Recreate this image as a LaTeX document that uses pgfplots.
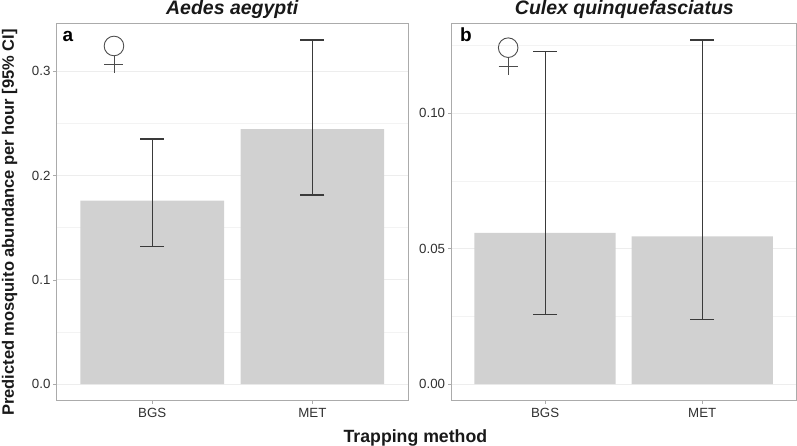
\documentclass[border=0pt]{standalone}
\usepackage{pgfplots}
\pgfplotsset{compat=1.18}
\usepackage{fontspec}
\setmainfont{Liberation Sans}
\definecolor{barg}{HTML}{D1D1D1}
\definecolor{frameg}{HTML}{ABABAB}
\definecolor{gridg}{HTML}{EDEDED}
\definecolor{ticktxt}{HTML}{303030}
\definecolor{errg}{HTML}{3A3A3A}
\pgfplotsset{
  panel/.style={
    scale only axis, anchor=north west,
    axis line style={frameg,line width=1pt},
    xmin=-0.595,xmax=1.6,
    xtick={0,1},xticklabels={BGS,MET},
    tick style={frameg,line width=0.7pt},
    major tick length=3.5pt,
    minor tick length=0pt,
    tick align=outside, xtick pos=bottom, ytick pos=left,
    tick label style={font=\fontsize{13.3}{15}\selectfont,text=ticktxt},
    xticklabel style={yshift=-0.5pt},
    yticklabel style={xshift=0.5pt},
    /pgf/number format/assume math mode=true,
    /pgf/number format/fixed,/pgf/number format/fixed zerofill,
    ymajorgrids, yminorgrids,
    major grid style={gridg,line width=0.9pt},
    minor grid style={gridg!70,line width=0.6pt},
    set layers=standard,
    clip=false,
  },
  bars/.style={ybar,bar width=143.7pt,bar shift=0pt,fill=barg,draw=none,forget plot},
  errs/.style={draw=none,mark=none,forget plot,
    error bars/.cd,y dir=both,y explicit,
    error bar style={errg,line width=1.15pt},
    error mark options={rotate=90,mark size=12pt,errg,line width=1.15pt}},
}
\begin{document}
\begin{tikzpicture}[x=1pt,y=1pt]
\path (0,0) rectangle (797,446);
\begin{axis}[panel,at={(57pt,422.5pt)},width=351.5pt,height=377pt,
  name=A,
  ymin=-0.0155,ymax=0.3459,
  ytick={0,0.1,0.2,0.3},minor ytick={0.05,0.15,0.25},
  /pgf/number format/precision=1]
\addplot[bars] coordinates {(0,0.176) (1,0.2445)};
\addplot[errs] coordinates {
  (0,0.1836) +- (0,0.0516)
  (1,0.25575) +- (0,0.07425)};
\end{axis}
\begin{axis}[panel,at={(451.7pt,422.5pt)},width=345pt,height=377pt,
  name=B,
  ymin=-0.006,ymax=0.1331,
  ytick={0,0.05,0.10},minor ytick={0.025,0.075,0.125},
  /pgf/number format/precision=2]
\addplot[bars,bar width=141.3pt] coordinates {(0,0.0558) (1,0.0545)};
\addplot[errs] coordinates {
  (0,0.07415) +- (0,0.04855)
  (1,0.07535) +- (0,0.05165)};
\end{axis}
% panel tags
\node[anchor=base west,font=\fontsize{19}{21}\selectfont\bfseries,inner sep=0] at (62.5,404) {a};
\node[anchor=base west,font=\fontsize{19}{21}\selectfont\bfseries,inner sep=0] at (460,404) {b};
% female symbols
\foreach \cx/\cy in {114/400,508.3/398.3}{
  \draw[black!70,line width=0.9pt] (\cx,\cy) circle (9.8);
  \draw[black!70,line width=0.9pt] (\cx,\cy-9.8) -- (\cx,\cy-27.5);
  \draw[black!70,line width=0.9pt] (\cx-9.5,\cy-18.7) -- (\cx+9.5,\cy-18.7);
}
% titles
\node[overlay,font=\fontsize{19.5}{22}\selectfont\bfseries\itshape,text=black!90,anchor=base] at (232.3,431) {Aedes aegypti};
\node[overlay,font=\fontsize{19.5}{22}\selectfont\bfseries\itshape,text=black!90,anchor=base] at (624.5,431) {Culex quinquefasciatus};
% axis titles
\node[overlay,font=\fontsize{17.7}{20}\selectfont\bfseries,text=black!90,anchor=base] at (415.5,3) {Trapping method};
\node[overlay,font=\fontsize{16.5}{19}\selectfont\bfseries,text=black!90,anchor=base,rotate=90] at (14,223.5) {Predicted mosquito abundance per hour [95\% CI]};
\end{tikzpicture}
\end{document}
